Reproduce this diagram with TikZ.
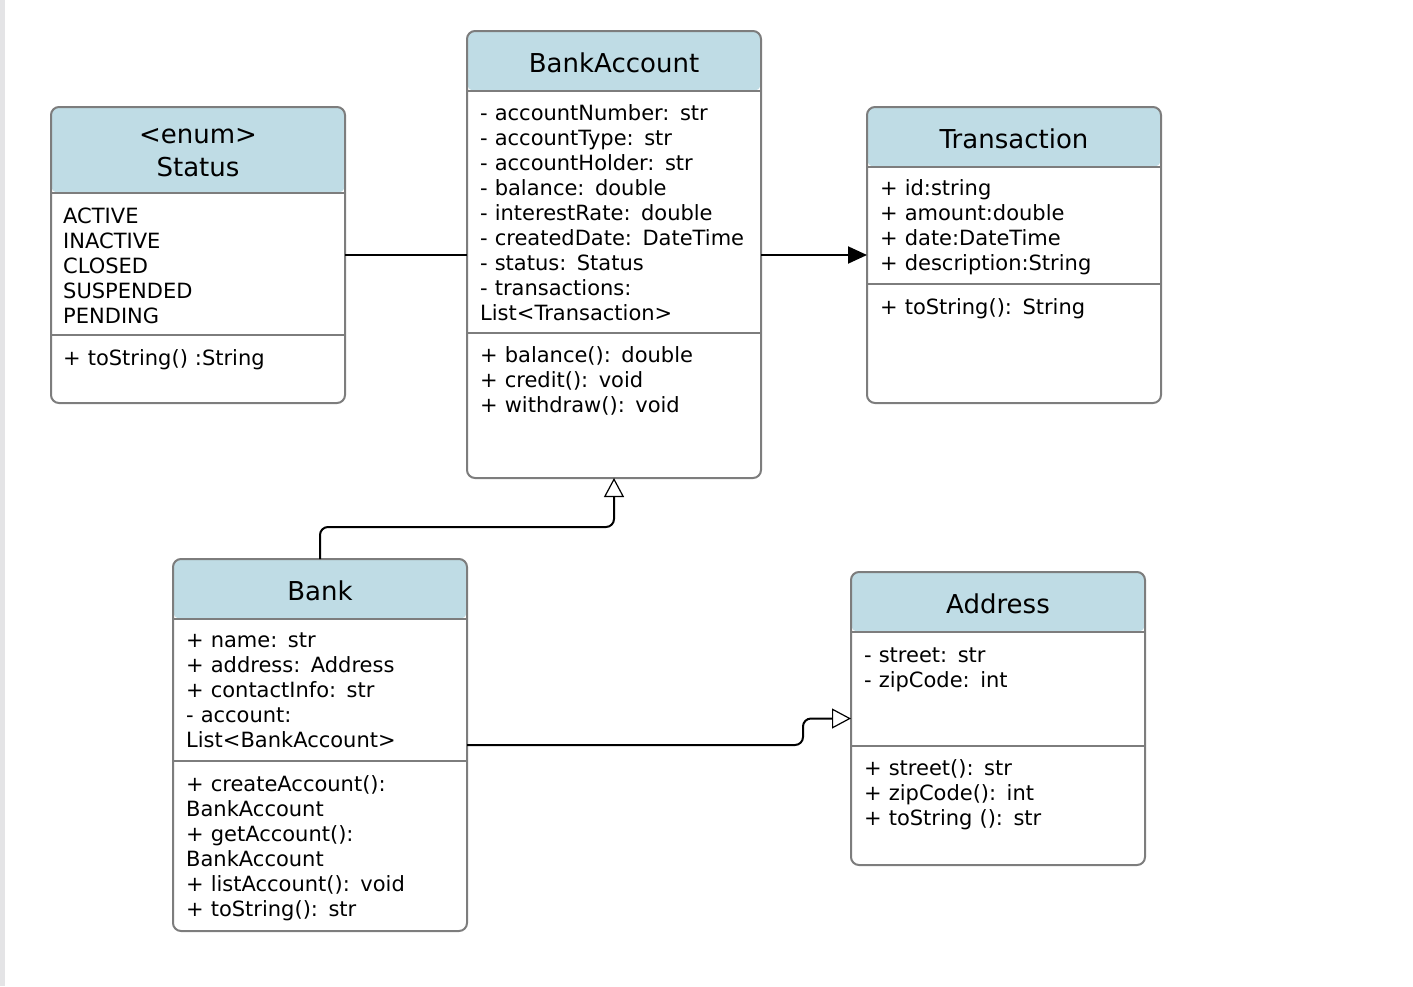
\documentclass[tikz,border=0pt]{standalone}
\usepackage{fontspec}
\setmainfont{DejaVu Sans}
\usetikzlibrary{arrows.meta}
\definecolor{headblue}{RGB}{191,220,229}
\definecolor{boxgray}{RGB}{125,125,125}
\definecolor{stripgray}{RGB}{228,228,230}

\tikzset{
        classbox/.style={draw=boxgray, line width=2pt, rounded corners=8pt, fill=white,
            anchor=north west, inner sep=0pt, outer sep=0pt, minimum width=294pt,
            path picture={\fill[headblue] (path picture bounding box.north west) rectangle ([yshift=-#1]path picture bounding box.north east);}},
        divider/.style={draw=boxgray, line width=2pt},
        classname/.style={font=\fontsize{26}{33}\selectfont, align=center, inner sep=0pt},
        members/.style={font=\fontsize{21}{25}\selectfont, align=left, text width=282pt, anchor=base west, inner sep=0pt},
        assoc/.style={draw=black, line width=2pt},
        inherit/.style={draw=black, line width=2pt, rounded corners=8pt, -{Triangle[open, length=19pt, width=20pt, line width=1.2pt]}}
}

\begin{document}
\begin{tikzpicture}[x=1pt, y=-1pt]
        \useasboundingbox (0,0) rectangle (1413,986);
        \fill[stripgray] (0,0) rectangle (5,986);

        \node[classbox=86pt, minimum height=296pt] (status) at (51,107) {};
        \draw[divider] (status.west |- 0,193) -- (status.east |- 0,193);
        \draw[divider] (status.west |- 0,335) -- (status.east |- 0,335);
        \node[classname] (statusName) at (198,153) {<enum>\\Status};
        \node[members] (statusAttr) at (63,223) {ACTIVE\\INACTIVE\\CLOSED\\SUSPENDED\\PENDING};
        \node[members] (statusOps) at (63,365) {+ toString() :String};

        \node[classbox=60pt, minimum height=447pt] (bankacc) at (467,31) {};
        \draw[divider] (bankacc.west |- 0,91) -- (bankacc.east |- 0,91);
        \draw[divider] (bankacc.west |- 0,333) -- (bankacc.east |- 0,333);
        \node[classname] (bankaccName) at (614,63) {BankAccount};
        \node[members] (bankaccAttr) at (480,120) {- accountNumber: str\\- accountType: str\\- accountHolder: str\\- balance: double\\- interestRate: double\\- createdDate: DateTime\\- status: Status\\- transactions:\\List<Transaction>};
        \node[members] (bankaccOps) at (480,362) {+ balance(): double\\+ credit(): void\\+ withdraw(): void};

        \node[classbox=60pt, minimum height=296pt] (transaction) at (867,107) {};
        \draw[divider] (transaction.west |- 0,167) -- (transaction.east |- 0,167);
        \draw[divider] (transaction.west |- 0,284) -- (transaction.east |- 0,284);
        \node[classname] (transactionName) at (1014,139) {Transaction};
        \node[members] (transactionAttr) at (880,195) {+ id:string\\+ amount:double\\+ date:DateTime\\+ description:String};
        \node[members] (transactionOps) at (880,314) {+ toString(): String};

        \node[classbox=60pt, minimum height=372pt] (bank) at (173,559) {};
        \draw[divider] (bank.west |- 0,619) -- (bank.east |- 0,619);
        \draw[divider] (bank.west |- 0,761) -- (bank.east |- 0,761);
        \node[classname] (bankName) at (320,591) {Bank};
        \node[members] (bankAttr) at (186,647) {+ name: str\\+ address: Address\\+ contactInfo: str\\- account:\\List<BankAccount>};
        \node[members] (bankOps) at (186,791) {+ createAccount():\\BankAccount\\+ getAccount():\\BankAccount\\+ listAccount(): void\\+ toString(): str};

        \node[classbox=60pt, minimum height=293pt] (address) at (851,572) {};
        \draw[divider] (address.west |- 0,632) -- (address.east |- 0,632);
        \draw[divider] (address.west |- 0,746) -- (address.east |- 0,746);
        \node[classname] (addressName) at (998,604) {Address};
        \node[members] (addressAttr) at (864,662) {- street: str\\- zipCode: int};
        \node[members] (addressOps) at (864,775) {+ street(): str\\+ zipCode(): int\\+ toString (): str};

        \draw[assoc] (status.east) -- (status.east -| bankacc.west);
        \draw[assoc, -{Triangle[length=19pt, width=17pt]}] (bankacc.east |- 0,255) -- (transaction.west |- 0,255);
        \draw[inherit] (bank.north) -- ++(0,-32) -| (bankacc.south);
        \draw[inherit] (bank.east) -- ++(336,0) |- (address.west);
\end{tikzpicture}
\end{document}
